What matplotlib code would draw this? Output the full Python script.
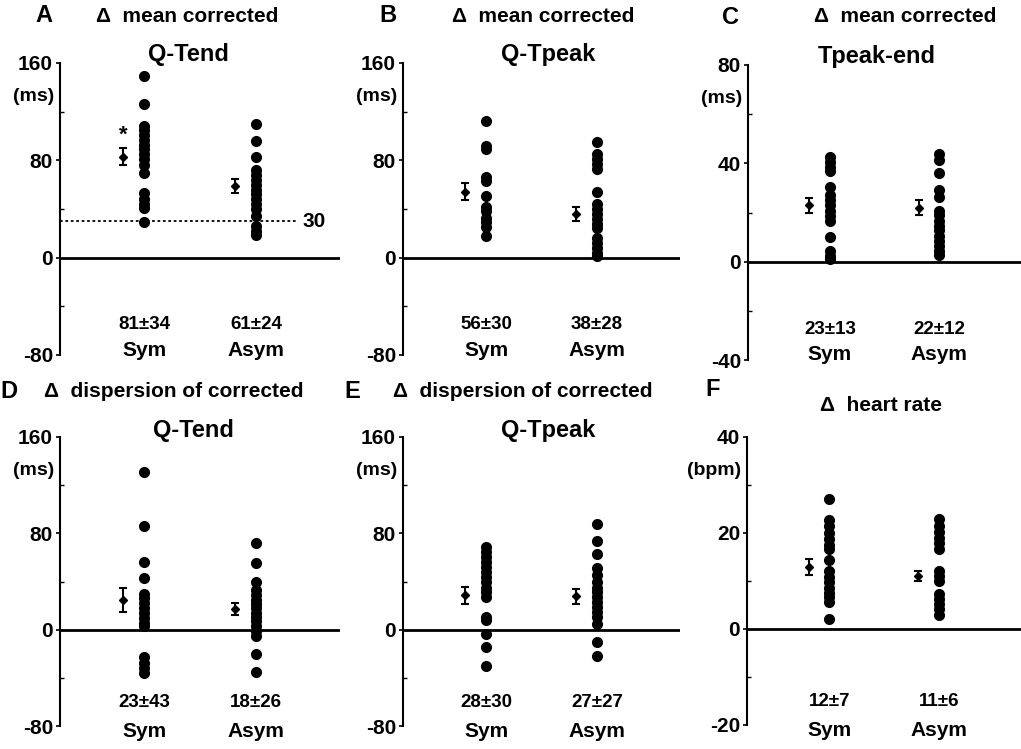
import numpy as np
import matplotlib
matplotlib.use('Agg')
import matplotlib.pyplot as plt

plt.rcParams['font.family'] = ['Liberation Sans Narrow', 'Liberation Sans', 'DejaVu Sans']
plt.rcParams['font.weight'] = 'bold'
plt.rcParams['axes.unicode_minus'] = False

groups = ['Sym', 'Asym']

# A - delta mean corrected Q-Tend (ms)
a_sym = [149, 126, 108, 105, 101, 97, 93, 89, 85, 81, 76, 70, 53, 48, 44, 41, 29]
a_asym = [110, 96, 83, 72, 68, 64, 60, 56, 52, 48, 44, 40, 34, 26, 22, 19]
a_mean = [83, 59]
a_sem = [7, 5.5]
a_text = ['81±34', '61±24']

# B - delta mean corrected Q-Tpeak (ms)
b_sym = [112, 92, 89, 66, 63, 51, 42, 38, 33, 29, 25, 18]
b_asym = [95, 85, 81, 77, 73, 54, 44, 40, 36, 32, 28, 24, 16, 12, 8, 3.5, 1]
b_mean = [54, 36]
b_sem = [7, 5.5]
b_text = ['56±30', '38±28']

# C - delta mean corrected Tpeak-end (ms)
c_sym = [42.6, 40.5, 38.5, 36.9, 30.3, 27.3, 24.9, 22.9, 20.8, 18.4, 16.5, 9.9, 4.5, 2.4, 1.1]
c_asym = [43.7, 41.5, 36, 29.3, 26.3, 20.8, 18.8, 16.7, 14.7, 12.7, 10.6, 8.6, 6.5, 4.5, 2.9]
c_mean = [23, 22]
c_sem = [3, 3]
c_text = ['23±13', '22±12']

# D - delta dispersion of corrected Q-Tend (ms)
d_sym = [131, 86, 56, 43, 30, 26, 22, 18, 14, 10, 5.5, 3, -23, -28, -32, -36]
d_asym = [72, 55, 40, 33, 29, 25, 21.5, 18, 14, 10.5, 7, 3, -1.4, -5, -20, -35]
d_mean = [25, 17]
d_sem = [10, 5]
d_text = ['23±43', '18±26']

# E - delta dispersion of corrected Q-Tpeak (ms)
e_sym = [69, 64.5, 60, 56, 52, 48, 44, 40, 35, 31, 27, 10.5, 8, -4, -14, -30]
e_asym = [87.5, 74, 63, 51, 45, 40, 35, 31, 27, 23, 19, 15, 10.5, 5, -10, -22]
e_mean = [28.5, 27.7]
e_sem = [7, 6]
e_text = ['28±30', '27±27']

# F - delta heart rate (bpm)
f_sym = [27, 22.8, 21.4, 20, 18.8, 17.6, 16.6, 14.3, 12.1, 10.9, 9.8, 8.6, 7.6, 6.6, 5.7, 2.1]
f_asym = [22.9, 21.4, 20.3, 19, 17.9, 16.6, 12.1, 11, 10, 7.2, 6.2, 5.2, 4.1, 2.9]
f_mean = [12.9, 11]
f_sem = [1.7, 1.1]
f_text = ['12±7', '11±6']

W, H = 1021, 749
fig = plt.figure(figsize=(W / 100, H / 100), dpi=100)


def px_rect(l, r, t, b):
    return [l / W, 1 - b / H, (r - l) / W, (b - t) / H]


def ftext(x, y, s, size=14, ha='center'):
    fig.text(x / W, 1 - y / H, s, fontsize=size, fontweight='bold', ha=ha, va='center')


panels = [
    (px_rect(60, 340, 63, 355), a_sym, a_asym, a_mean, a_sem, a_text, (-80, 160), '(ms)'),
    (px_rect(403, 680, 63, 355), b_sym, b_asym, b_mean, b_sem, b_text, (-80, 160), '(ms)'),
    (px_rect(748, 1021, 65, 360), c_sym, c_asym, c_mean, c_sem, c_text, (-40, 80), '(ms)'),
    (px_rect(60, 340, 437, 726), d_sym, d_asym, d_mean, d_sem, d_text, (-80, 160), '(ms)'),
    (px_rect(403, 680, 437, 726), e_sym, e_asym, e_mean, e_sem, e_text, (-80, 160), '(ms)'),
    (px_rect(747, 1021, 437, 725), f_sym, f_asym, f_mean, f_sem, f_text, (-20, 40), '(bpm)'),
]

dot_x = [1.2, 2.8]
axes = []
for i, (rect, s, a, m, se, txt, (lo, hi), unit) in enumerate(panels):
    ax = fig.add_axes(rect)
    axes.append(ax)
    ax.set_xlim(0, 4)
    ax.set_ylim(lo, hi)
    for sp in ['top', 'right', 'bottom']:
        ax.spines[sp].set_visible(False)
    ax.spines['left'].set_linewidth(1.5)
    ax.axhline(0, color='k', lw=2)
    ax.set_xticks([])
    ax.set_yticks([hi, hi / 2, 0, lo])
    ax.set_yticklabels([f'{v:g}' for v in [hi, hi / 2, 0, lo]], fontweight='bold')
    ax.set_yticks([hi * 0.75, hi * 0.25, lo / 2], minor=True)
    ax.tick_params(axis='y', which='major', direction='out', length=3, width=1.2,
                   labelsize=15, pad=2)
    ax.tick_params(axis='y', which='minor', direction='in', length=3, width=1)
    for vals, x in zip([s, a], dot_x):
        ax.plot(np.full(len(vals), x), vals, 'o', color='k', ms=7, clip_on=False)
    for x, mv, sv in zip(dot_x, m, se):
        ax.errorbar(x - 0.3, mv, yerr=sv, fmt='D', ms=4.5, color='k',
                    capsize=3, elinewidth=1.5, capthick=1.5)
    tr = ax.get_xaxis_transform()
    ty = 0.103 if i < 3 else 0.08
    gy = 0.017 if i < 3 else -0.02
    for x, t, g in zip(dot_x, txt, groups):
        ax.text(x, ty, t, transform=tr, ha='center', va='center', fontsize=13.5, fontweight='bold')
        ax.text(x, gy, g, transform=tr, ha='center', va='center', fontsize=15, fontweight='bold')
    # unit label just under the top tick, left of the axis
    ax.text(-0.02, hi - (hi - lo) * 0.115, unit, transform=ax.get_yaxis_transform(),
            ha='right', va='center', fontsize=14, fontweight='bold')

# panel A extras: significance star and 30 ms reference line
axA = axes[0]
axA.plot([0, 3.4], [30, 30], ls=(0, (1.5, 1.5)), color='k', lw=1.3)
axA.text(3.47, 30, '30', ha='left', va='center', fontsize=15, fontweight='bold')
axA.text(dot_x[0] - 0.3, 101, '*', ha='center', va='center', fontsize=16, fontweight='bold')

# panel letters and titles
ftext(44, 15, 'A', 17)
ftext(187, 17, 'Δ  mean corrected', 15)
ftext(188, 55, 'Q-Tend', 17)
ftext(388, 15, 'B', 17)
ftext(543, 17, 'Δ  mean corrected', 15)
ftext(548, 55, 'Q-Tpeak', 17)
ftext(730, 17, 'C', 17)
ftext(905, 17, 'Δ  mean corrected', 15)
ftext(877, 57, 'Tpeak-end', 17)
ftext(9, 392, 'D', 17)
ftext(174, 392, 'Δ  dispersion of corrected', 15)
ftext(193, 430, 'Q-Tend', 17)
ftext(352, 392, 'E', 17)
ftext(523, 392, 'Δ  dispersion of corrected', 15)
ftext(548, 430, 'Q-Tpeak', 17)
ftext(713, 390, 'F', 17)
ftext(881, 405, 'Δ  heart rate', 15)

fig.savefig('out.png', dpi=100)
